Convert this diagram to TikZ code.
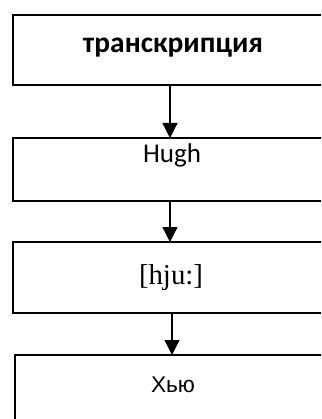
\documentclass[tikz,border=0pt]{standalone}
\usepackage{fontspec}
\setmainfont{Carlito}
\newfontfamily\timesf{Liberation Serif}
\newfontfamily\arialf{Liberation Sans}
\usetikzlibrary{arrows.meta}
\begin{document}
\begin{tikzpicture}[x=1pt,y=-1pt,
  boxst/.style={draw=black,line width=1.5pt,anchor=north west,minimum width=340pt,inner sep=0pt,outer sep=0pt},
  arr/.style={line width=1.3pt,-{Triangle[length=15pt,width=15pt]}},
  lbl/.style={anchor=base,inner sep=0pt}]
\clip (0,0) rectangle (321,419);
\fill[white] (0,0) rectangle (321,419);
\node[boxst,minimum height=70pt] (b1) at (13,15) {};
\node[boxst,minimum height=63pt] (b2) at (13,138) {};
\node[boxst,minimum height=71pt] (b3) at (13,242) {};
\node[boxst,minimum height=100pt] (b4) at (15,355) {};
\node[lbl] (t1) at (173,52.5) {\resizebox{180pt}{!}{\fontsize{20}{24}\selectfont\bfseries транскрипция}};
\node[lbl] (t2) at (172,163) {\resizebox{58pt}{!}{\fontsize{20}{24}\selectfont Hugh}};
\node[lbl] (t3) at (171,284) {\resizebox{64pt}{!}{\timesf\fontsize{20}{24}\selectfont [hju:]}};
\node[lbl] (t4) at (173,392) {\resizebox{44pt}{!}{\arialf\fontsize{20}{24}\selectfont Хью}};
\coordinate (x1) at (170,0);
\coordinate (x3) at (172,0);
\draw[arr] (b1.south -| x1) -- (b2.north -| x1);
\draw[arr] (b2.south -| x1) -- (b3.north -| x1);
\draw[arr] (b3.south -| x3) -- (b4.north -| x3);
\end{tikzpicture}
\end{document}
